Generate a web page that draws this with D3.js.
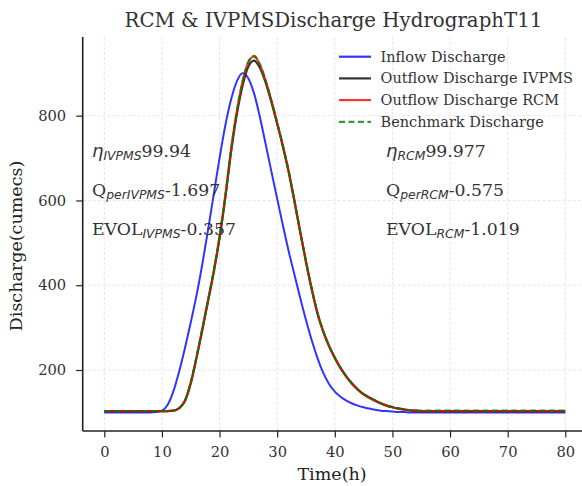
<!DOCTYPE html>
<html><head><meta charset="utf-8">
<script src="https://cdn.jsdelivr.net/npm/d3@7"></script>
<style>body{margin:0;background:#fff;} svg{display:block;font-family:"DejaVu Serif",serif;}</style>
</head><body>
<svg id="chart" width="582" height="486"></svg>
<script>
const titleText = "RCM & IVPMSDischarge HydrographT11";
const xTicks = [0,10,20,30,40,50,60,70,80];
const yTicks = [200,400,600,800];
const time = d3.range(0,81);
const inflow = [100,100,100,100,100,100,100,100,100,101,
  104,118,150,197,252,312,376,449,530,615,
  700,777,838,881,900,888,852,797,733,668,
  604,541,480,425,370,318,270,228,193,167,
  149,137,128,121,116,112,109,106,104,103,
  102,101,101,100,100,100,100,100,100,100,
  100,100,100,100,100,100,100,100,100,100,
  100,100,100,100,100,100,100,100,100,100,100];
const outflowRCM = [103,103,103,103,103,103,103,103,103,103,
  103,103,104,110,128,170,230,296,364,434,
  514,610,720,810,880,926,940,920,882,835,
  783,728,668,598,525,455,390,333,290,256,
  228,204,184,167,153,142,134,127,121,116,
  112,109,107,105,104,103,103,103,103,103,
  103,103,103,103,103,103,103,103,103,103,
  103,103,103,103,103,103,103,103,103,103,103];
const outflowIVPMS = [103,103,103,103,103,103,103,103,103,103,
  103,103,104,110,127,168,228,294,362,431,
  511,606,714,803,871,916,930,913,878,832,
  781,727,667,598,526,456,391,334,291,257,
  229,205,185,168,154,143,135,128,121,116,
  112,109,107,105,104,103,103,103,103,103,
  103,103,103,103,103,103,103,103,103,103,
  103,103,103,103,103,103,103,103,103,103,103];
const benchmark = [103,103,103,103,103,103,103,103,103,103,
  103,103,104,110,128,171,231,297,365,435,
  515,611,721,811,881,927,941,921,883,836,
  784,729,669,599,526,456,391,334,291,257,
  229,205,185,168,154,143,135,128,122,117,
  113,110,107,105,104,104,104,104,104,104,
  104,104,104,104,104,104,104,104,104,104,
  104,104,104,104,104,104,104,104,104,104,104];
const seriesNames = ["Inflow Discharge","Outflow Discharge IVPMS","Outflow Discharge RCM","Benchmark Discharge"];
const statsIVPMS = ["99.94","-1.697","-0.357"];
const statsRCM = ["99.977","-0.575","-1.019"];

const svg = d3.select("#chart");
const x = d3.scaleLinear().domain([0,80]).range([104.3,565.3]);
const y = d3.scaleLinear().domain([200,800]).range([370,115.7]);
const axLeft = 82.7, axTop = 37, axBottom = 431, axRight = 590;

// grid
const grid = svg.append("g").attr("stroke","#dedede").attr("stroke-width",0.8).attr("stroke-dasharray","3,2");
xTicks.forEach(t=>grid.append("line").attr("x1",x(t)).attr("x2",x(t)).attr("y1",axTop).attr("y2",axBottom));
yTicks.forEach(t=>grid.append("line").attr("x1",axLeft).attr("x2",axRight).attr("y1",y(t)).attr("y2",y(t)));

// axes
const xAxis = d3.axisBottom(x).tickValues(xTicks).tickSize(6.5).tickPadding(9.5).tickFormat(d3.format("d"));
const yAxis = d3.axisLeft(y).tickValues(yTicks).tickSize(6.5).tickPadding(10).tickFormat(d3.format("d"));
const gx = svg.append("g").attr("transform",`translate(0,${axBottom})`).call(xAxis);
const gy = svg.append("g").attr("transform",`translate(${axLeft},0)`).call(yAxis);
[gx,gy].forEach(g=>{
  g.select(".domain").remove();
  g.selectAll("line").attr("stroke","#222").attr("stroke-width",1.2);
  g.selectAll("text").attr("font-family","DejaVu Serif").attr("font-size",14.7).attr("fill","#333");
});
svg.append("line").attr("x1",axLeft).attr("x2",axLeft).attr("y1",axTop).attr("y2",axBottom).attr("stroke","#222").attr("stroke-width",1.6);
svg.append("line").attr("x1",axLeft).attr("x2",axRight).attr("y1",axBottom).attr("y2",axBottom).attr("stroke","#222").attr("stroke-width",1.6);

// lines
const line = d3.line().x((d,i)=>x(time[i])).y(d=>y(d)).curve(d3.curveMonotoneX);
svg.append("path").datum(inflow).attr("d",line).attr("fill","none").attr("stroke","blue").attr("stroke-opacity",0.8).attr("stroke-width",2);
svg.append("path").datum(outflowIVPMS).attr("d",line).attr("fill","none").attr("stroke","black").attr("stroke-opacity",0.8).attr("stroke-width",2.2);
svg.append("path").datum(outflowRCM).attr("d",line).attr("fill","none").attr("stroke","red").attr("stroke-opacity",0.8).attr("stroke-width",2.2);
svg.append("path").datum(benchmark).attr("d",line).attr("fill","none").attr("stroke","green").attr("stroke-opacity",0.8).attr("stroke-width",2.2).attr("stroke-dasharray","6,3.5");

// legend
const legColors = ["blue","black","red","green"];
const leg = svg.append("g");
seriesNames.forEach((n,i)=>{
  const yy = 56.7 + i*21.7;
  leg.append("line").attr("x1",339).attr("x2",371).attr("y1",yy).attr("y2",yy)
    .attr("stroke",legColors[i]).attr("stroke-opacity",0.8).attr("stroke-width",2.2)
    .attr("stroke-dasharray", i===3 ? "6,3.5" : null);
  leg.append("text").attr("x",380.5).attr("y",yy+5).attr("font-size",14.5).attr("fill","#333").text(n);
});

// title and labels
svg.append("text").attr("x",333.5).attr("y",27).attr("text-anchor","middle").attr("font-size",19.8).attr("fill","#333").text(titleText);
svg.append("text").attr("x",332).attr("y",480).attr("text-anchor","middle").attr("font-size",17.5).attr("fill","#222").text("Time(h)");
svg.append("text").attr("transform","translate(22,246) rotate(-90)").attr("text-anchor","middle").attr("font-size",17.5).attr("fill","#222").text("Discharge(cumecs)");

// annotations
function stat(xp, yp, main, sub, val){
  const t = svg.append("text").attr("x",xp).attr("y",yp).attr("font-size",17.3).attr("fill","#333");
  if(main==="η") t.append("tspan").attr("font-family","DejaVu Sans").attr("font-style","italic").attr("font-size",18).text("η");
  else t.append("tspan").text(main);
  t.append("tspan").attr("font-family","DejaVu Sans").attr("font-style","italic").attr("font-size",12.4).attr("dy",3).text(sub);
  t.append("tspan").attr("dy",-3).text(val);
}
const rowsY = [157,196,235];
stat(92,rowsY[0],"η","IVPMS",statsIVPMS[0]);
stat(92,rowsY[1],"Q","perIVPMS",statsIVPMS[1]);
stat(92,rowsY[2],"EVOL","IVPMS",statsIVPMS[2]);
stat(386,rowsY[0],"η","RCM",statsRCM[0]);
stat(386,rowsY[1],"Q","perRCM",statsRCM[1]);
stat(386,rowsY[2],"EVOL","RCM",statsRCM[2]);
</script>
</body></html>
